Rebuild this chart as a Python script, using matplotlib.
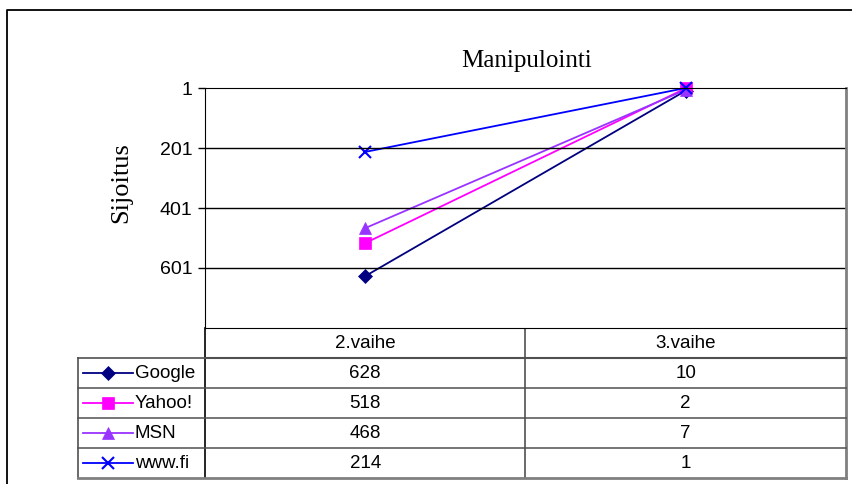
import matplotlib
matplotlib.use("Agg")
import matplotlib.pyplot as plt
from matplotlib.transforms import blended_transform_factory

# Data
stages = ["2.vaihe", "3.vaihe"]
engines = ["Google", "Yahoo!", "MSN", "www.fi"]
google = [628, 10]
yahoo = [518, 2]
msn = [468, 7]
wwwfi = [214, 1]
yticks = [1, 201, 401, 601]

series = [google, yahoo, msn, wwwfi]
colors = ["#000080", "#FF00FF", "#9933FF", "#0000FF"]
markers = ["D", "s", "^", "x"]
msizes = [7, 8, 9, 9]

W, H = 853, 484
fig = plt.figure(figsize=(W / 100, H / 100), dpi=100)
plt.rcParams['font.family'] = ['Liberation Sans', 'DejaVu Sans']

# pixel overlay for frame and table
bg = fig.add_axes([0, 0, 1, 1])
bg.set_xlim(0, W)
bg.set_ylim(H, 0)
bg.axis("off")
bg.plot([7, 7, W + 5], [H + 5, 10, 10], color="black", lw=1.3)

# plot area
px0, px1, py0, py1 = 205, 846, 88, 328
ax = fig.add_axes([px0 / W, 1 - py1 / H, (px1 - px0) / W, (py1 - py0) / H])
ax.set_zorder(2)
xs = list(range(len(stages)))
for vals, c, m, ms in zip(series, colors, markers, msizes):
    ax.plot(xs, vals, color=c, marker=m, markersize=ms, lw=1.3,
            markeredgewidth=1.5 if m == "x" else 0.5, clip_on=False)
ax.set_xlim(-0.5, len(stages) - 0.5)
ax.set_ylim(801, 1)
ax.set_yticks(yticks)
ax.set_yticklabels([str(t) for t in yticks], fontsize=14)
ax.set_xticks([])
ax.tick_params(axis="y", length=5, width=1, pad=4)
for t in yticks[1:]:
    ax.axhline(t, color="black", lw=1)
ax.spines["left"].set_color("black")
ax.spines["top"].set_color("black")
ax.spines["bottom"].set_color("black")
ax.spines["right"].set_color("#808080")
ax.spines["right"].set_linewidth(2)

bg.text(527, 67, "Manipulointi", fontsize=18, family="Liberation Serif",
        ha="center", va="baseline")
bg.text(121, 183, "Sijoitus", fontsize=19, family="Liberation Serif",
        ha="center", va="center", rotation=90)

# data table
row_h = 30
tx0 = 78
trans = blended_transform_factory(ax.transData, bg.transData)
grey = "#505050"
fs = 13.5
bg.plot([px0, px0], [py1, py1 + row_h * 5], color="black", lw=1.2)
bg.plot([525, 525], [py1, py1 + row_h * 5], color=grey, lw=1.2)
bg.plot([px1, px1], [py1, py1 + row_h * 5], color="#808080", lw=2)
bg.plot([tx0, tx0], [py1 + row_h, py1 + row_h * 5], color=grey, lw=1.2)
bg.plot([px0, px1], [py1 + row_h, py1 + row_h], color=grey, lw=1.5)
bg.plot([tx0, px0], [py1 + row_h, py1 + row_h], color=grey, lw=1.2)
for i in range(2, 5):
    bg.plot([tx0, px1], [py1 + row_h * i] * 2, color=grey, lw=1.1)
bg.plot([tx0, px1], [py1 + row_h * 5] * 2, color="#808080", lw=2)

for j, s in enumerate(stages):
    bg.text(j, py1 + row_h / 2, s, transform=trans, ha="center", va="center", fontsize=fs)

for i, (name, vals, c, m, ms) in enumerate(zip(engines, series, colors, markers, msizes)):
    yc = py1 + row_h * (i + 1) + row_h / 2
    bg.plot([83, 133], [yc, yc], color=c, lw=1.3)
    bg.plot([108], [yc], color=c, marker=m, markersize=ms,
            markeredgewidth=1.5 if m == "x" else 0.5)
    bg.text(135, yc, name, ha="left", va="center", fontsize=fs)
    for j, v in enumerate(vals):
        bg.text(j, yc, str(v), transform=trans, ha="center", va="center", fontsize=fs)

fig.savefig("out.png", dpi=100)
